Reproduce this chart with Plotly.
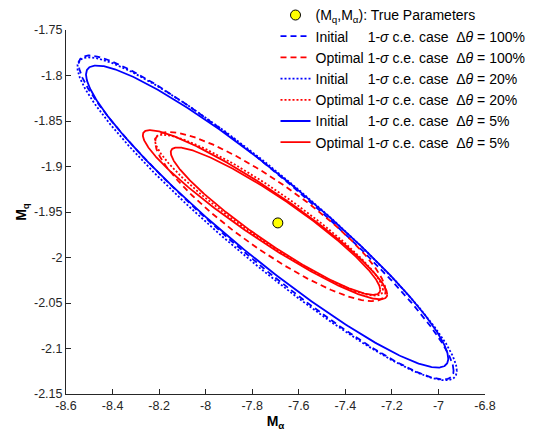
import numpy as np
import plotly.graph_objects as go

# ---- data ----
true_param = {"M_alpha": -7.69, "M_q": -1.962}

case_names = ["Initial 100%", "Optimal 100%", "Initial 20%", "Optimal 20%", "Initial 5%", "Optimal 5%", "Optimal 5% (inner)"]
center_x = [-7.740, -7.722, -7.736, -7.728, -7.736, -7.745, -7.700]
center_y = [-1.956, -1.955, -1.9575, -1.9535, -1.955, -1.953, -1.960]
sigma_x = [0.805, 0.495, 0.815, 0.490, 0.778, 0.525, 0.450]
sigma_y = [0.178, 0.093, 0.1775, 0.0885, 0.166, 0.093, 0.081]
rho = [-0.945, -0.880, -0.940, -0.930, -0.940, -0.940, -0.932]
colors = ["#0000ff", "#ff0000", "#0000ff", "#ff0000", "#0000ff", "#ff0000", "#ff0000"]
dashes = ["6px,4px", "6px,4px", "2px,2px", "2px,2px", "solid", "solid", "solid"]

x_ticks = [-8.6, -8.4, -8.2, -8.0, -7.8, -7.6, -7.4, -7.2, -7.0, -6.8]
x_tick_text = ["-8.6", "-8.4", "-8.2", "-8", "-7.8", "-7.6", "-7.4", "-7.2", "-7", "-6.8"]
y_ticks = [-2.15, -2.1, -2.05, -2.0, -1.95, -1.9, -1.85, -1.8, -1.75]
y_tick_text = ["-2.15", "-2.1", "-2.05", "-2", "-1.95", "-1.9", "-1.85", "-1.8", "-1.75"]

NB = "\u00a0"
legend_names = [
    "Initial" + NB * 5 + "1-<i>σ</i> c.e. case" + NB + " Δ<i>θ</i> = 100%",
    "Optimal 1-<i>σ</i> c.e. case" + NB + " Δ<i>θ</i> = 100%",
    "Initial" + NB * 5 + "1-<i>σ</i> c.e. case" + NB + " Δ<i>θ</i> = 20%",
    "Optimal 1-<i>σ</i> c.e. case" + NB + " Δ<i>θ</i> = 20%",
    "Initial" + NB * 5 + "1-<i>σ</i> c.e. case" + NB + " Δ<i>θ</i> = 5%",
    "Optimal 1-<i>σ</i> c.e. case" + NB + " Δ<i>θ</i> = 5%",
    "",
]

fig = go.Figure()

fig.add_trace(go.Scatter(
    x=[true_param["M_alpha"]], y=[true_param["M_q"]], mode="markers",
    marker=dict(color="#ffff00", size=10, line=dict(color="black", width=1)),
    name="(M<sub>q</sub>,M<sub>α</sub>): True Parameters",
))

t = np.linspace(0, 2 * np.pi, 500)
for i in range(len(case_names)):
    ex = center_x[i] + sigma_x[i] * np.cos(t)
    ey = center_y[i] + sigma_y[i] * (rho[i] * np.cos(t) + np.sqrt(1 - rho[i] ** 2) * np.sin(t))
    fig.add_trace(go.Scatter(
        x=ex, y=ey, mode="lines",
        line=dict(color=colors[i], width=1.8, dash=dashes[i]),
        name=legend_names[i], showlegend=(i < 6),
    ))

axis_common = dict(
    showgrid=False, zeroline=False, showline=True, linecolor="#262626", linewidth=1,
    ticks="inside", ticklen=5, tickcolor="#262626", mirror=False, automargin=False,
    tickfont=dict(family="Liberation Sans, Arial", size=12.5, color="#262626"),
)

fig.update_layout(
    width=554, height=436,
    margin=dict(l=66, r=69, t=30, b=42, autoexpand=False),
    paper_bgcolor="white", plot_bgcolor="white",
    font=dict(family="Liberation Sans, Arial", color="#000000"),
    xaxis=dict(range=[-8.6, -6.8], tickvals=x_ticks, ticktext=x_tick_text,
               title=dict(text="<b>M<sub>α</sub></b>", font=dict(size=14), standoff=4),
               **axis_common),
    yaxis=dict(range=[-2.15, -1.75], tickvals=y_ticks, ticktext=y_tick_text,
               title=dict(text="<b>M<sub>q</sub></b>", font=dict(size=14), standoff=4),
               **axis_common),
    legend=dict(x=0.5, y=1.084, xanchor="left", yanchor="top",
                bgcolor="rgba(0,0,0,0)", borderwidth=0,
                font=dict(family="Liberation Sans, Arial", size=14, color="#000000"),
                tracegroupgap=0, itemwidth=30),
    showlegend=True,
)

fig.write_html("out.html")
